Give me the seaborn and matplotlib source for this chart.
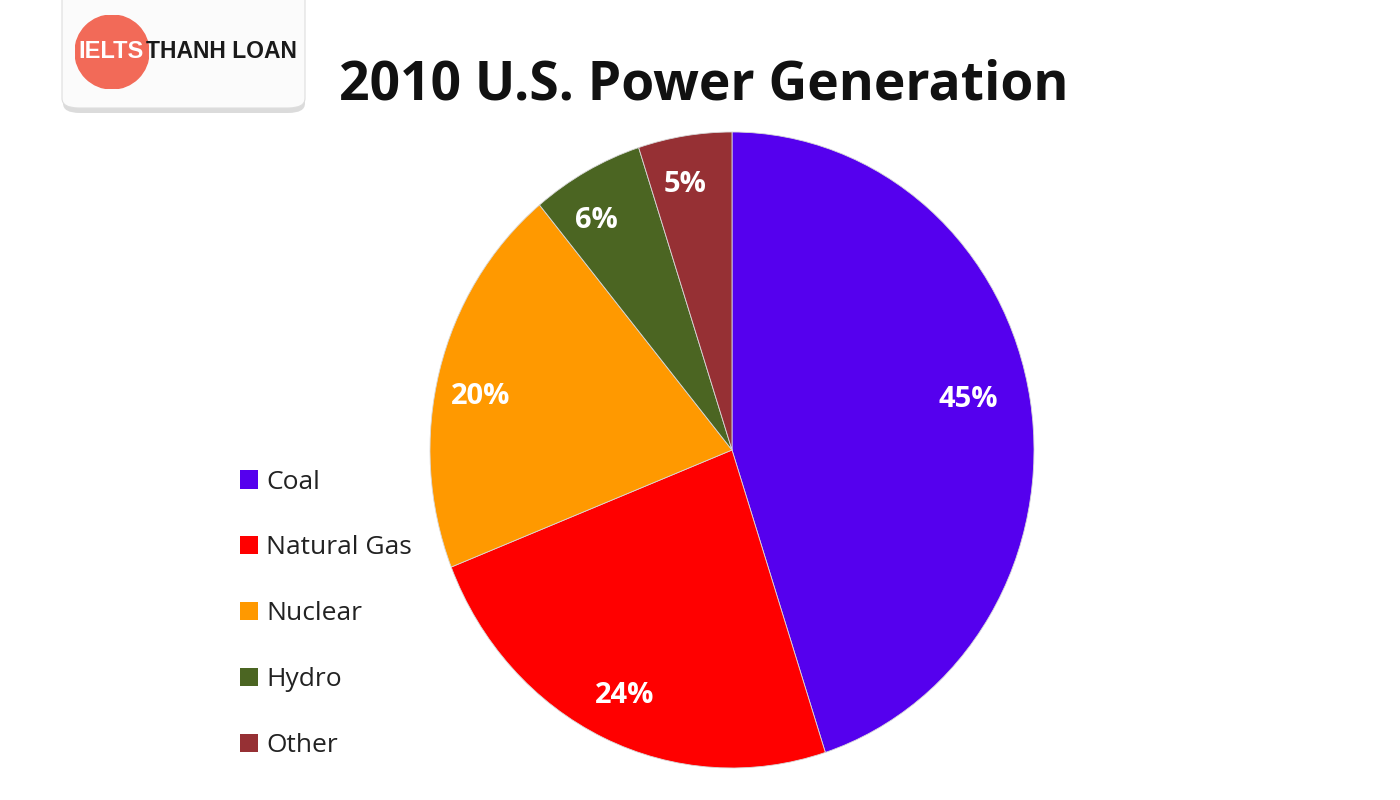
import matplotlib
matplotlib.use("Agg")
import matplotlib.pyplot as plt
import seaborn as sns
import numpy as np
from matplotlib.patches import FancyBboxPatch, Circle, Patch

sources = ["Coal", "Natural Gas", "Nuclear", "Hydro", "Other"]
shares = [45, 24, 20, 6, 5]
pct_labels = ["45%", "24%", "20%", "6%", "5%"]
colors = ["#5500EE", "#FF0000", "#FF9900", "#4B6522", "#963034"]

sns.set_theme(style="white")
plt.rcParams["font.family"] = ["Open Sans", "DejaVu Sans"]

W, H = 1400, 800
fig = plt.figure(figsize=(14, 8), dpi=100)
fig.patch.set_facecolor("white")

def fx(px):
    return px / W

def fy(py):
    return 1 - py / H

# Pie axes (slightly stretched vertically as in reference)
left, right, top, bottom = 430, 1034, 132, 768
ax = fig.add_axes([fx(left), fy(bottom), fx(right - left), (bottom - top) / H])
wedges, texts = ax.pie(
    shares,
    colors=colors,
    startangle=90,
    counterclock=False,
    radius=1,
    labels=None,
    wedgeprops=dict(linewidth=0.6, edgecolor="#d8d8d8"),
)
ax.set_aspect("auto")
ax.set_xlim(-1.0, 1.0)
ax.set_ylim(-1.0, 1.0)
ax.axis("off")

label_offsets = [2.5, 0.5, 3.0, 3.0, 1.5]
for i, (w, lab) in enumerate(zip(wedges, pct_labels)):
    ang = np.deg2rad((w.theta1 + w.theta2) / 2 + label_offsets[i])
    r = 0.8 if i == 0 else 0.85
    ax.text(r * np.cos(ang), r * np.sin(ang), lab, ha="center", va="center",
            color="white", fontsize=21, fontweight="bold")

# Title
fig.text(fx(704), fy(85), "2010 U.S. Power Generation", ha="center", va="center",
         fontsize=38.5, fontweight="bold", color="#111111")

# Legend
handles = [Patch(facecolor=c, edgecolor="none") for c in colors]
leg = fig.legend(handles, sources, loc="upper left",
                 bbox_to_anchor=(fx(229), fy(459)), frameon=False,
                 fontsize=19, handlelength=0.7, handleheight=0.7,
                 handletextpad=0.3, labelspacing=1.55, borderaxespad=0)
for t in leg.get_texts():
    t.set_color("#222222")

# Logo box
shadow = FancyBboxPatch((fx(63), fy(113)), fx(242), 0.2,
                        boxstyle="round,pad=0,rounding_size=0.012",
                        transform=fig.transFigure, facecolor="#c4c4c4",
                        edgecolor="none", alpha=0.6, zorder=5)
fig.patches.append(shadow)
box = FancyBboxPatch((fx(62), fy(108)), fx(243), 0.2,
                     boxstyle="round,pad=0,rounding_size=0.012",
                     transform=fig.transFigure, facecolor="#fbfbfb",
                     edgecolor="#dddddd", linewidth=0.8, zorder=6)
fig.patches.append(box)
logo_ax = fig.add_axes([fx(75), fy(89), fx(74), 74 / H], zorder=7)
logo_ax.set_xlim(-1, 1)
logo_ax.set_ylim(-1, 1)
logo_ax.add_patch(Circle((0, 0), 1, color="#F26A58"))
logo_ax.axis("off")
fig.text(fx(111), fy(52), "IELTS", ha="center", va="center", color="white",
         fontsize=17, fontweight="bold", family=["Liberation Sans", "DejaVu Sans"],
         zorder=8)
fig.text(fx(221), fy(52), "THANH LOAN", ha="center", va="center", color="#1a1a1a",
         fontsize=16.5, fontweight="bold", family=["Liberation Sans", "DejaVu Sans"],
         zorder=8)

fig.savefig("out.png", dpi=100)
